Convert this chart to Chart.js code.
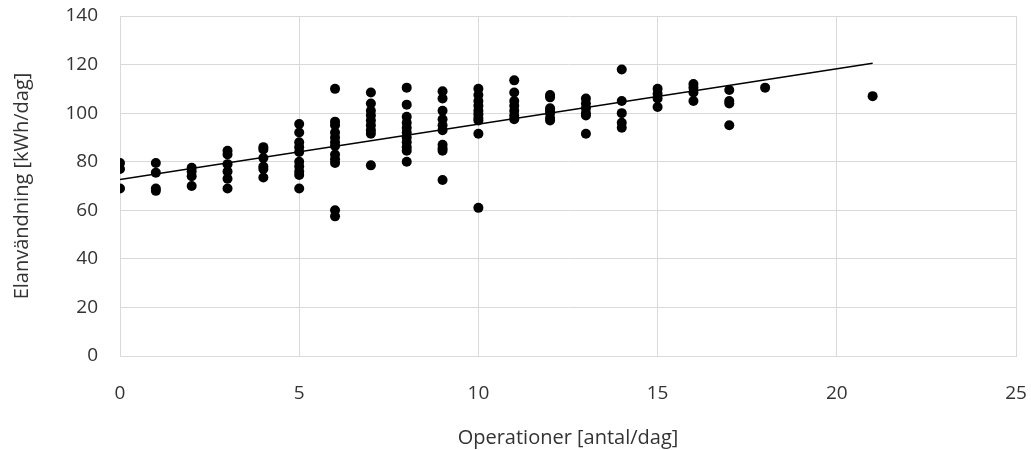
<!DOCTYPE html>
<html>
<head>
<meta charset="utf-8">
<script src="https://cdn.jsdelivr.net/npm/chart.js@4"></script>
<style>
  html, body { margin: 0; padding: 0; background: #fff; }
  #wrap { width: 1031px; height: 450px; }
</style>
</head>
<body>
<div id="wrap"><canvas id="c" width="1031" height="450"></canvas></div>
<script>
// Operations per day (x) for each observation
const operations = [
  0,0,0,
  1,1,1,1,
  2,2,2,2,
  3,3,3,3,3,3,
  4,4,4,4,4,4,
  5,5,5,5,5,5,5,5,5,5,
  6,6,6,6,6,6,6,6,6,6,6,6,
  7,7,7,7,7,7,7,7,7,
  8,8,8,8,8,8,8,8,8,8,8,
  9,9,9,9,9,9,9,9,9,9,
  10,10,10,10,10,10,10,10,10,10,
  11,11,11,11,11,11,11,
  12,12,12,12,12,12,12,
  13,13,13,13,13,13,
  14,14,14,14,14,
  15,15,15,15,
  16,16,16,16,
  17,17,17,17,
  18,
  21
];
// Electricity use (kWh/day) for each observation
const energy = [
  79.5, 77, 69,
  79.5, 75.5, 69, 68,
  77.5, 76, 74, 70,
  84.5, 83, 79, 76, 73, 69,
  86, 85, 81.5, 78, 77, 73.5,
  95.5, 92, 88, 86, 84, 80, 78, 76, 74.5, 69,
  110, 96.5, 95, 92, 90, 88, 86.5, 83, 81, 79.5, 60, 57.5,
  108.5, 104, 101, 99, 97, 95, 93, 91.5, 78.5,
  110.5, 103.5, 98.5, 96, 94, 92, 90, 88, 86, 84.5, 80,
  109, 106, 101, 97.5, 95, 93, 87, 85.5, 84.5, 72.5,
  110, 107.5, 105, 103, 101, 99.5, 98, 97, 91.5, 61,
  113.5, 108.5, 105, 103, 101, 99, 97.5,
  107.5, 106.5, 102, 101, 100, 98, 97,
  106, 104, 102, 100, 99, 91.5,
  118, 105, 100, 96, 94,
  110, 108, 106, 102.5,
  112, 110.5, 108.5, 105,
  109.5, 105, 104, 95,
  110.5,
  107
];
// Linear trend line endpoints
const trendX = [0, 21];
const trendY = [72.7, 120.5];

const xTitle = 'Operationer [antal/dag]';
const yTitle = 'Elanvändning [kWh/dag]';

const scatterData = operations.map((x, i) => ({ x: x, y: energy[i] }));
const trendData = trendX.map((x, i) => ({ x: x, y: trendY[i] }));

const FONT = "'Open Sans', 'Liberation Sans', sans-serif";
const textColor = '#333333';
const gridColor = '#d9d9d9';

new Chart(document.getElementById('c'), {
  type: 'scatter',
  data: {
    datasets: [
      {
        type: 'line',
        data: trendData,
        borderColor: '#000',
        borderWidth: 1.5,
        pointRadius: 0,
        fill: false,
        order: 0
      },
      {
        data: scatterData,
        backgroundColor: '#000',
        borderColor: '#000',
        borderWidth: 0,
        pointRadius: 5,
        order: 1
      }
    ]
  },
  options: {
    responsive: false,
    animation: false,
    layout: { padding: { top: 16, right: 15, left: 0, bottom: 0 } },
    plugins: { legend: { display: false }, tooltip: { enabled: false } },
    scales: {
      x: {
        type: 'linear',
        min: 0, max: 25,
        ticks: { stepSize: 5, color: textColor, font: { family: FONT, size: 19 }, padding: 26 },
        grid: { color: gridColor, lineWidth: 1, drawTicks: false },
        border: { color: gridColor },
        title: { display: true, text: xTitle, color: textColor, font: { family: FONT, size: 20 }, padding: { top: 0, bottom: 0 } },
        afterFit: function(s) { s.height = 94; s.paddingLeft = 0; s.paddingRight = 0; }
      },
      y: {
        type: 'linear',
        min: 0, max: 140,
        ticks: { stepSize: 20, color: textColor, font: { family: FONT, size: 19 }, padding: 22 },
        grid: { color: gridColor, lineWidth: 1, drawTicks: false },
        border: { color: gridColor },
        title: { display: true, text: yTitle, color: textColor, font: { family: FONT, size: 20 }, padding: { top: 10, bottom: 0 } },
        afterFit: function(s) { s.width = 120; s.paddingTop = 0; s.paddingBottom = 0; }
      }
    }
  }
});
</script>
</body>
</html>
